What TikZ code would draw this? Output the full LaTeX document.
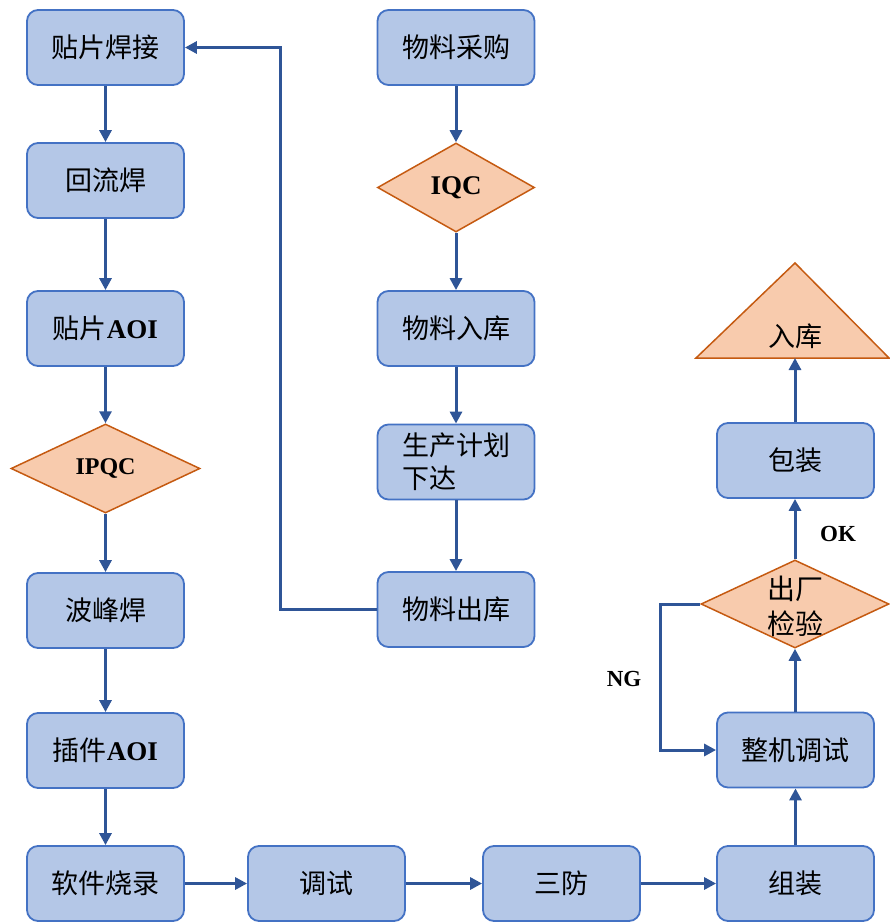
\documentclass[tikz,border=0pt]{standalone}
\usepackage{fontspec}
\setmainfont{Liberation Serif}
\newfontfamily\cjk{Noto Sans CJK SC}
\usetikzlibrary{shapes.geometric,arrows.meta}
\definecolor{boxfill}{HTML}{B4C7E7}
\definecolor{boxline}{HTML}{4472C4}
\definecolor{dfill}{HTML}{F8CBAD}
\definecolor{dline}{HTML}{C55A11}
\definecolor{arr}{HTML}{2F5597}
\tikzset{
  procbox/.style={draw=boxline,fill=boxfill,line width=1.8pt,rounded corners=11pt,
    minimum width=157pt,minimum height=75pt,inner sep=0pt,
    font=\cjk\fontsize{27}{34}\selectfont,text=black},
  decide/.style={diamond,draw=dline,fill=dfill,line width=1.5pt,inner sep=0pt,
    font=\fontsize{27}{32}\selectfont\bfseries},
  flow/.style={draw=arr,line width=3pt,-{Triangle[length=12pt,width=12pt]}},
  lbl/.style={font=\fontsize{23}{26}\selectfont\bfseries}
}
\begin{document}
\begin{tikzpicture}[x=1pt,y=-1pt]
\useasboundingbox (0,0) rectangle (889,923);
% left column
\node[procbox] (tpjh) at (105.5,47.5) {贴片焊接};
\node[procbox] (hlh) at (105.5,180.5) {回流焊};
\node[procbox] (tpaoi) at (105.5,328.5) {贴片{\rmfamily\bfseries AOI}};
\node[decide,minimum width=189pt,minimum height=89pt,font=\fontsize{24}{28}\selectfont\bfseries] (ipqc) at (105.5,468.5) {IPQC};
\node[procbox] (bfh) at (105.5,610.5) {波峰焊};
\node[procbox] (cjaoi) at (105.5,750.5) {插件{\rmfamily\bfseries AOI}};
\node[procbox] (rjsl) at (105.5,883.5) {软件烧录};
% middle column
\node[procbox] (wlcg) at (456,47.5) {物料采购};
\node[decide,minimum width=157pt,minimum height=89pt] (iqc) at (456,187.5) {IQC};
\node[procbox] (wlrk) at (456,328.5) {物料入库};
\node[procbox,align=left,font=\cjk\fontsize{27}{33}\selectfont] (scjh) at (456,462) {生产计划\\下达};
\node[procbox] (wlck) at (456,609.5) {物料出库};
% bottom row
\node[procbox] (ts) at (326.5,883.5) {调试};
\node[procbox] (sf) at (561.5,883.5) {三防};
\node[procbox] (zz) at (795.5,883.5) {组装};
% right column
\node[procbox] (zjts) at (795.5,750) {整机调试};
\node[decide,minimum width=188pt,minimum height=88pt] (ccjy) at (795,604) {};
\node[font=\cjk\fontsize{28}{35}\selectfont,align=left] (ccjyt) at (795,606) {出厂\\检验};
\node[procbox] (bz) at (795.5,460.5) {包装};
\draw[draw=dline,fill=dfill,line width=1.5pt] (696,358) -- (795,263) -- (889,358) -- cycle;
\node[font=\cjk\fontsize{27}{32}\selectfont] (rk) at (795,336) {入库};
\coordinate (rkbase) at (795,358);
% connectors
\draw[flow] (tpjh) -- (hlh);
\draw[flow] (hlh) -- (tpaoi);
\draw[flow] (tpaoi) -- (ipqc);
\draw[flow] (ipqc) -- (bfh);
\draw[flow] (bfh) -- (cjaoi);
\draw[flow] (cjaoi) -- (rjsl);
\draw[flow] (wlcg) -- (iqc);
\draw[flow] (iqc) -- (wlrk);
\draw[flow] (wlrk) -- (scjh);
\draw[flow] (scjh) -- (wlck);
\draw[flow] (wlck.west) -- (280,609.5) -- (280,47.5) -- (tpjh.east);
\draw[flow] (rjsl) -- (ts);
\draw[flow] (ts) -- (sf);
\draw[flow] (sf) -- (zz);
\draw[flow] (zz) -- (zjts);
\draw[flow] (zjts.north -| ccjy.south) -- (ccjy.south);
\draw[flow] (ccjy.north) -- (bz.south -| ccjy.north);
\draw[flow] (bz.north -| rkbase) -- (rkbase);
\draw[flow] (ccjy.west) -- (660,604) -- (660,750) -- (zjts.west);
\node[lbl] (ok) at (838,534) {OK};
\node[lbl] (ng) at (624,679) {NG};
\end{tikzpicture}
\end{document}
